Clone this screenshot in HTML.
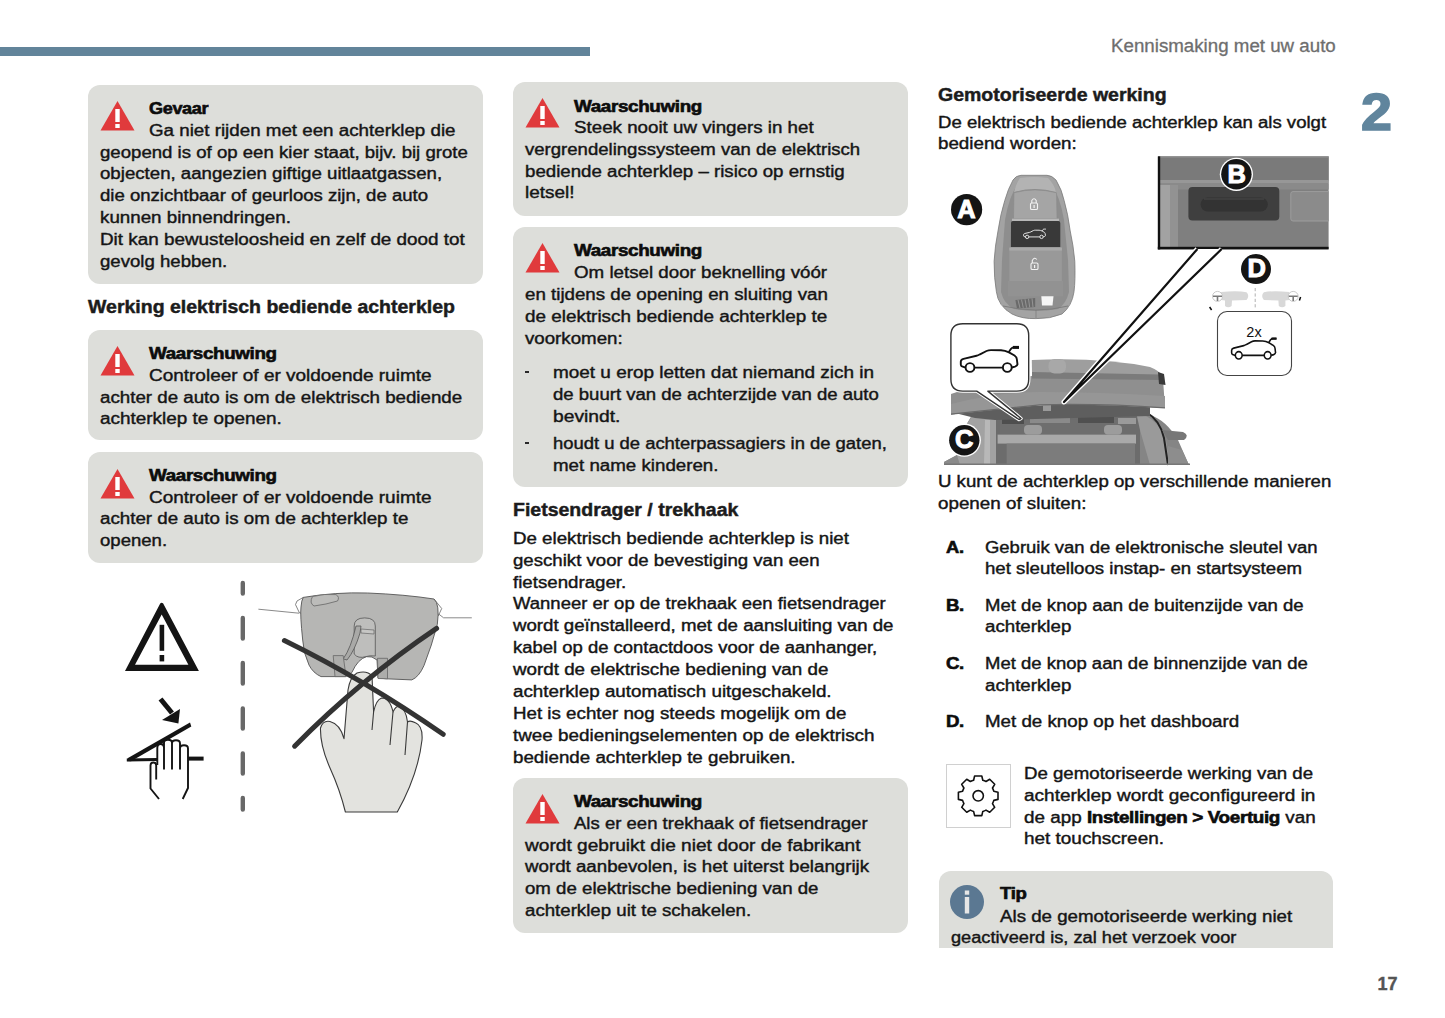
<!DOCTYPE html>
<html><head><meta charset="utf-8">
<style>
*{margin:0;padding:0;box-sizing:border-box}
html,body{width:1445px;height:1018px;overflow:hidden;background:#fff}
body{position:relative;font-family:"Liberation Sans",sans-serif;color:#151515}
.a{position:absolute}
.t{position:absolute;font-size:16px;line-height:21.9px;white-space:nowrap;transform:scaleX(1.165);transform-origin:0 0;-webkit-text-stroke:0.4px #151515}
.b{font-weight:bold;letter-spacing:-0.3px;-webkit-text-stroke:0.6px #0c0c0c;color:#0c0c0c}
.h{position:absolute;font-size:18px;font-weight:bold;white-space:nowrap;line-height:22px;color:#1c1c1c;transform:scaleX(1.083);transform-origin:0 0;-webkit-text-stroke:0.45px #1c1c1c}
.box{position:absolute;background:#dddeda;border-radius:12px}
.warn{position:absolute;width:35px;height:31px}
</style></head><body>
<!-- header -->
<div class="a" style="left:0;top:47px;width:590px;height:9px;background:#62849a"></div>
<div class="a" style="left:1110.6px;top:35.1px;font-size:18px;color:#6e6e6e;-webkit-text-stroke:0.3px #6e6e6e;white-space:nowrap;line-height:22px;transform:scaleX(1.04);transform-origin:0 0">Kennismaking met uw auto</div>
<div class="a" style="left:1361px;top:81.9px;font-size:52.5px;font-weight:bold;color:#60859d;line-height:60px;-webkit-text-stroke:1.6px #60859d;transform:scaleX(1.06);transform-origin:0 0">2</div>

<!-- LEFT COLUMN -->
<div class="box" style="left:88px;top:85px;width:395px;height:199px"></div>
<svg class="warn" style="left:100px;top:100px" viewBox="0 0 35 31"><path d="M17.5 1 L34.5 30.5 L0.5 30.5 Z" fill="#e03a3c"/><rect x="15.3" y="9" width="4.4" height="13" fill="#fff"/><rect x="15.3" y="24" width="4.4" height="4" fill="#fff"/></svg>
<div class="t" id="L1" style="left:149px;top:98.10px;transform:scaleX(1.1286)"><span class="b">Gevaar</span></div>
<div class="t" id="L2" style="left:149px;top:120.10px;transform:scaleX(1.1723)">Ga niet rijden met een achterklep die</div>
<div class="t" id="L3" style="left:100px;top:142.10px;transform:scaleX(1.1627)">geopend is of op een kier staat, bijv. bij grote</div>
<div class="t" id="L4" style="left:100px;top:163.10px;transform:scaleX(1.1654)">objecten, aangezien giftige uitlaatgassen,</div>
<div class="t" id="L5" style="left:100px;top:185.10px;transform:scaleX(1.1597)">die onzichtbaar of geurloos zijn, de auto</div>
<div class="t" id="L6" style="left:100px;top:207.10px;transform:scaleX(1.1725)">kunnen binnendringen.</div>
<div class="t" id="L7" style="left:100px;top:229.10px;transform:scaleX(1.1783)">Dit kan bewusteloosheid en zelf de dood tot</div>
<div class="t" id="L8" style="left:100px;top:251.10px;transform:scaleX(1.1623)">gevolg hebben.</div>

<div class="h" style="left:88px;top:296px">Werking elektrisch bediende achterklep</div>

<div class="box" style="left:88px;top:329.5px;width:395px;height:110.5px"></div>
<svg class="warn" style="left:100px;top:345px" viewBox="0 0 35 31"><path d="M17.5 1 L34.5 30.5 L0.5 30.5 Z" fill="#e03a3c"/><rect x="15.3" y="9" width="4.4" height="13" fill="#fff"/><rect x="15.3" y="24" width="4.4" height="4" fill="#fff"/></svg>
<div class="t" id="L9" style="left:149px;top:343.10px;transform:scaleX(1.1742)"><span class="b">Waarschuwing</span></div>
<div class="t" id="L10" style="left:149px;top:365.10px;transform:scaleX(1.1852)">Controleer of er voldoende ruimte</div>
<div class="t" id="L11" style="left:100px;top:387.10px;transform:scaleX(1.1701)">achter de auto is om de elektrisch bediende</div>
<div class="t" id="L12" style="left:100px;top:408.10px;transform:scaleX(1.1815)">achterklep te openen.</div>

<div class="box" style="left:88px;top:452px;width:395px;height:111px"></div>
<svg class="warn" style="left:100px;top:467.5px" viewBox="0 0 35 31"><path d="M17.5 1 L34.5 30.5 L0.5 30.5 Z" fill="#e03a3c"/><rect x="15.3" y="9" width="4.4" height="13" fill="#fff"/><rect x="15.3" y="24" width="4.4" height="4" fill="#fff"/></svg>
<div class="t" id="L13" style="left:149px;top:465.10px;transform:scaleX(1.1742)"><span class="b">Waarschuwing</span></div>
<div class="t" id="L14" style="left:149px;top:487.10px;transform:scaleX(1.1852)">Controleer of er voldoende ruimte</div>
<div class="t" id="L15" style="left:100px;top:508.10px;transform:scaleX(1.1712)">achter de auto is om de achterklep te</div>
<div class="t" id="L16" style="left:100px;top:530.10px;transform:scaleX(1.1596)">openen.</div>


<!-- LEFT ILLUSTRATION -->
<svg class="a" style="left:100px;top:570px" width="380" height="260" viewBox="100 570 380 260">
  <!-- outlined warning triangle -->
  <path d="M160.2 603.5 Q161.7 601.8 163.2 603.5 L198.9 671 L125 671 Z M161.7 614.6 L135 664.7 L188.4 664.7 Z" fill="#141414" fill-rule="evenodd"/>
  <rect x="159.6" y="624.8" width="4.6" height="26" fill="#141414"/>
  <rect x="159.6" y="655" width="4.6" height="6.4" fill="#141414"/>
  <!-- arrow -->
  <path d="M160.5 699 L172 713" stroke="#141414" stroke-width="5" fill="none"/>
  <path d="M162 720 L180 709 L178.4 723.4 Z" fill="#141414"/>
  <!-- hinge lines -->
  <path d="M126.8 760 L157 759.5" stroke="#141414" stroke-width="3.2" fill="none"/>
  <path d="M186 758.6 L203.6 758.6" stroke="#141414" stroke-width="4" fill="none"/>
  <path d="M126.8 761 L128 758 L190 722.4 L191.3 726.6 L131 761.3 Z" fill="#141414"/>
  <!-- hand -->
  <path d="M150.5 788.5 L150.5 765.5 Q150.5 762.5 153.3 762.5 Q156.2 762.5 156.2 765.5 L157.3 765 L157.3 748 Q157.3 744 160.7 744 Q164 744 164 747.5 L164 742.8 Q164 739.7 168 739.7 Q172 739.7 172 742.8 L172 743.3 Q172 740.2 176 740.2 Q180 740.2 180 743.3 L180 748.5 Q180 745.3 184 745.3 Q188 745.3 188 748.5 L188 788 L182.7 799 L159 799 Z" fill="#fff"/>
  <path d="M159 799 L150.5 788.5 L150.5 765.5 Q150.5 762.5 153.3 762.5 Q156.2 762.5 156.2 765.5 L156.2 779.5" fill="none" stroke="#141414" stroke-width="1.9" stroke-linejoin="round"/>
  <path d="M157.3 765 L157.3 748 Q157.3 744 160.7 744 Q164 744 164 747.5 L164 769.6 M164 747.5 L164 742.8 Q164 739.7 168 739.7 Q172 739.7 172 742.8 L172 769.6 M172 743.3 Q172 740.2 176 740.2 Q180 740.2 180 743.3 L180 769.6 M180 748.5 Q180 745.3 184 745.3 Q188 745.3 188 748.5 L188 788 L182.7 799" fill="none" stroke="#141414" stroke-width="1.9" stroke-linejoin="round"/>
  <!-- dashed divider -->
  <path d="M242.8 583 V593.5 M242.8 618 V638.5 M242.8 663 V683.5 M242.8 708.5 V728.5 M242.8 753.5 V773.5 M242.8 798 V809.5" stroke="#686868" stroke-width="4.4" stroke-linecap="round" fill="none"/>
  <!-- thin body lines -->
  <path d="M258.4 609.2 L299 613.2" stroke="#8a8a8a" stroke-width="1" fill="none"/>
  <path d="M436 612 L443.6 617.8 L471.8 617.8" stroke="#8a8a8a" stroke-width="1" fill="none"/>
  <!-- lock housing -->
  <path d="M303.3 597.4 L297 601 L295.5 604.6 L299.5 613 L302 613 Z" fill="#fff" stroke="#666" stroke-width="0.8"/>
  <path d="M434 599 L441.7 608.5 L438.4 615.7 L437.3 612 Z" fill="#fff" stroke="#666" stroke-width="0.8"/>
  <path d="M303.3 597.4 Q335 592 367.5 593 Q405 594.5 434 599 Q440 604 437.3 624.5 Q432 645 424 665.5 Q419 677 411.8 679.9 L386.3 678.8 L378 678 L377 660 Q372 655.6 366.4 656.7 Q358 659 352 672.2 L349.8 674.4 L345.4 676.6 L321 676.6 Q313 673 309 665 Q303 652 302.7 640 Q300 615 301 607 Q301.5 600 303.3 597.4 Z" fill="#b6b6b4" stroke="#555" stroke-width="0.9" stroke-linejoin="round"/>
  <path d="M312.5 596.5 Q325 593.5 336 594.6 Q340 597 337.5 601 Q326 604.5 314 606 Q309 603 312.5 596.5 Z" fill="#bcbcba" stroke="#666" stroke-width="0.8"/>
  <path d="M354.2 654 L354.2 626 Q354.2 617.9 364.7 617.9 Q375.3 617.9 375.3 626 L375.3 656 Q370 655.2 366 656.6 Q358 659 354.2 654 Z" fill="#bebebc" stroke="#555" stroke-width="0.8"/>
  <path d="M356 626 L361 626 L360 633 Q355 650 347 660 L343.2 658.9 Q351 648 356 626 Z" fill="#a9a9a7" stroke="#555" stroke-width="0.8"/>
  <path d="M361 629 L374 630 L374 634 L361 633 Z" fill="#c6c6c4" stroke="#666" stroke-width="0.7"/>
  <path d="M333.2 655.6 L343.2 655.6 L346 676.6 L335 676.6 Z" fill="#adadab" stroke="#666" stroke-width="0.8"/>
  <path d="M377.5 658.3 L387.5 658.3 L387.5 678.8 L378 678.5 Z" fill="#adadab" stroke="#666" stroke-width="0.8"/>
  <!-- hand (right) -->
  <path d="M345.4 812 Q340 790 330 768 Q320 745 320.5 728 Q323 720 330 721.5 Q340 724 344 738.6 L348 690 Q350 677 357 673 Q367 670 372 676 L373.6 712 Q376 700 381.5 698 Q390 698 393 712 Q396 705 399.6 707 Q406 709 407.5 722 Q410 720 415.4 722.8 Q423 726 422 740 Q418 775 397.3 812 Z" fill="#e3e3df" stroke="#3a3a3a" stroke-width="1.1" stroke-linejoin="round"/>
  <path d="M373.6 712 L372 730 M393 712 L390 745 M407.5 722 L405 755" stroke="#3a3a3a" stroke-width="1.1" fill="none"/>
  <!-- X -->
  <path d="M284.4 640.5 Q365 680 443.2 734.3" stroke="#333" stroke-width="5" stroke-linecap="round" fill="none"/>
  <path d="M294.6 746.2 Q360 680 436.6 628.4" stroke="#333" stroke-width="5" stroke-linecap="round" fill="none"/>
</svg>

<!-- MIDDLE COLUMN -->
<div class="box" style="left:513px;top:82px;width:395px;height:133.5px"></div>
<svg class="warn" style="left:525px;top:97px" viewBox="0 0 35 31"><path d="M17.5 1 L34.5 30.5 L0.5 30.5 Z" fill="#e03a3c"/><rect x="15.3" y="9" width="4.4" height="13" fill="#fff"/><rect x="15.3" y="24" width="4.4" height="4" fill="#fff"/></svg>
<div class="t" id="L17" style="left:574px;top:96.10px;transform:scaleX(1.1770)"><span class="b">Waarschuwing</span></div>
<div class="t" id="L18" style="left:574px;top:117.10px;transform:scaleX(1.1714)">Steek nooit uw vingers in het</div>
<div class="t" id="L19" style="left:525px;top:139.10px;transform:scaleX(1.1595)">vergrendelingssysteem van de elektrisch</div>
<div class="t" id="L20" style="left:525px;top:161.10px;transform:scaleX(1.1672)">bediende achterklep – risico op ernstig</div>
<div class="t" id="L21" style="left:525px;top:182.10px;transform:scaleX(1.1855)">letsel!</div>

<div class="box" style="left:513px;top:227px;width:395px;height:260px"></div>
<svg class="warn" style="left:525px;top:242px" viewBox="0 0 35 31"><path d="M17.5 1 L34.5 30.5 L0.5 30.5 Z" fill="#e03a3c"/><rect x="15.3" y="9" width="4.4" height="13" fill="#fff"/><rect x="15.3" y="24" width="4.4" height="4" fill="#fff"/></svg>
<div class="t" id="L22" style="left:574px;top:240.10px;transform:scaleX(1.1770)"><span class="b">Waarschuwing</span></div>
<div class="t" id="L23" style="left:574px;top:262.10px;transform:scaleX(1.1711)">Om letsel door beknelling vóór</div>
<div class="t" id="L24" style="left:525px;top:284.10px;transform:scaleX(1.1701)">en tijdens de opening en sluiting van</div>
<div class="t" id="L25" style="left:525px;top:306.10px;transform:scaleX(1.1799)">de elektrisch bediende achterklep te</div>
<div class="t" id="L26" style="left:525px;top:328.10px;transform:scaleX(1.1675)">voorkomen:</div>
<div class="t" id="L27" style="left:525px;top:362.10px">&nbsp;</div>
<div class="a" style="left:525px;top:370.5px;width:4.4px;height:2.2px;background:#2a2a2a"></div>
<div class="t" id="L28" style="left:553px;top:362.10px;transform:scaleX(1.1832)">moet u erop letten dat niemand zich in</div>
<div class="t" id="L29" style="left:553px;top:384.10px;transform:scaleX(1.1590)">de buurt van de achterzijde van de auto</div>
<div class="t" id="L30" style="left:553px;top:406.10px;transform:scaleX(1.2020)">bevindt.</div>
<div class="t" id="L31" style="left:525px;top:433.10px">&nbsp;</div>
<div class="a" style="left:525px;top:441.9px;width:4.4px;height:2.2px;background:#2a2a2a"></div>
<div class="t" id="L32" style="left:553px;top:433.10px;transform:scaleX(1.1511)">houdt u de achterpassagiers in de gaten,</div>
<div class="t" id="L33" style="left:553px;top:455.10px;transform:scaleX(1.1701)">met name kinderen.</div>

<div class="h" style="left:513px;top:499px">Fietsendrager / trekhaak</div>
<div class="t" id="L34" style="left:513px;top:528.10px;transform:scaleX(1.1694)">De elektrisch bediende achterklep is niet</div>
<div class="t" id="L35" style="left:513px;top:550.10px;transform:scaleX(1.1645)">geschikt voor de bevestiging van een</div>
<div class="t" id="L36" style="left:513px;top:572.10px;transform:scaleX(1.1672)">fietsendrager.</div>
<div class="t" id="L37" style="left:513px;top:593.10px;transform:scaleX(1.1562)">Wanneer er op de trekhaak een fietsendrager</div>
<div class="t" id="L38" style="left:513px;top:615.10px;transform:scaleX(1.1656)">wordt geïnstalleerd, met de aansluiting van de</div>
<div class="t" id="L39" style="left:513px;top:637.10px;transform:scaleX(1.1532)">kabel op de contactdoos voor de aanhanger,</div>
<div class="t" id="L40" style="left:513px;top:659.10px;transform:scaleX(1.1741)">wordt de elektrische bediening van de</div>
<div class="t" id="L41" style="left:513px;top:681.10px;transform:scaleX(1.1743)">achterklep automatisch uitgeschakeld.</div>
<div class="t" id="L42" style="left:513px;top:703.10px;transform:scaleX(1.1713)">Het is echter nog steeds mogelijk om de</div>
<div class="t" id="L43" style="left:513px;top:725.10px;transform:scaleX(1.1781)">twee bedieningselementen op de elektrisch</div>
<div class="t" id="L44" style="left:513px;top:747.10px;transform:scaleX(1.1722)">bediende achterklep te gebruiken.</div>

<div class="box" style="left:513px;top:778px;width:395px;height:155px"></div>
<svg class="warn" style="left:525px;top:793px" viewBox="0 0 35 31"><path d="M17.5 1 L34.5 30.5 L0.5 30.5 Z" fill="#e03a3c"/><rect x="15.3" y="9" width="4.4" height="13" fill="#fff"/><rect x="15.3" y="24" width="4.4" height="4" fill="#fff"/></svg>
<div class="t" id="L45" style="left:574px;top:791.10px;transform:scaleX(1.1770)"><span class="b">Waarschuwing</span></div>
<div class="t" id="L46" style="left:574px;top:813.10px;transform:scaleX(1.1583)">Als er een trekhaak of fietsendrager</div>
<div class="t" id="L47" style="left:525px;top:835.10px;transform:scaleX(1.1937)">wordt gebruikt die niet door de fabrikant</div>
<div class="t" id="L48" style="left:525px;top:856.10px;transform:scaleX(1.1688)">wordt aanbevolen, is het uiterst belangrijk</div>
<div class="t" id="L49" style="left:525px;top:878.10px;transform:scaleX(1.1658)">om de elektrische bediening van de</div>
<div class="t" id="L50" style="left:525px;top:900.10px;transform:scaleX(1.1665)">achterklep uit te schakelen.</div>

<!-- RIGHT COLUMN -->
<div class="h" style="left:938px;top:84px">Gemotoriseerde werking</div>
<div class="t" id="L51" style="left:938px;top:112.10px;transform:scaleX(1.1605)">De elektrisch bediende achterklep kan als volgt</div>
<div class="t" id="L52" style="left:938px;top:133.10px;transform:scaleX(1.1728)">bediend worden:</div>

<!-- ILLUSTRATION placeholder -->
<svg class="a" style="left:930px;top:150px" width="410" height="320" viewBox="930 150 410 320">
  <defs>
    <g id="caricon">
      <path d="M5.6 21.6 L2 20.4 Q0.8 20 0.8 18.5 L0.8 15.5 Q1 13.5 3.5 12.8 L16.5 9.8 Q18 9.5 20 8.3 L26.5 5 Q28.5 4.1 31 4.1 L41 4.2 Q45 4.4 49 6.4 L54.5 9.5 Q56.6 11 56.8 13 L57.5 18.3 Q57.2 19.8 55 20.6 L51.8 21.5 M14.4 21.6 L42.9 21.6" fill="none"/>
      <circle cx="10" cy="21.5" r="4.4" fill="none"/>
      <circle cx="47.3" cy="21.5" r="4.4" fill="none"/>
      <path d="M48.8 6 L51 2.8 Q52.3 1.3 54.5 1.3 L58.7 1.3" fill="none"/>
    </g>
  </defs>
  <!-- ===== key fob ===== -->
  <path d="M1021 175.3 L1047 175.3 Q1052 175.5 1056 180 Q1062 190 1064.1 200.4 Q1068 214 1070.2 230.9 Q1073.5 246 1074.8 261.3 Q1075.5 280 1074 291.8 Q1072 306 1062 314 Q1050 319 1036 318.6 Q1022 319 1012 314 Q998 306 996.4 291.8 Q994 278 994.1 261.3 Q995 246 998 230.9 Q1000.5 214 1004.8 200.4 Q1008 189 1013 180 Q1016 175.5 1021 175.3 Z" fill="#a3a3a3" stroke="#7a7a7a" stroke-width="0.8"/>
  <path d="M1018 184 Q1034 181 1051 184 Q1060 196 1064 220 L1068 260 L1069 292 Q1066 304 1058 309 Q1036 313 1014 309 Q1004 304 1001 292 L1002 260 L1005 220 Q1009 196 1018 184 Z" fill="#8e8e8e"/>
  <path d="M1020 178 Q1034 176 1048 178 Q1054 184 1056 192 Q1035 186 1014 192 Q1016 184 1020 178 Z" fill="#b3b3b3"/>
  <path d="M1014 192.8 Q1035 187 1056.5 192.8 L1057 218.7 L1013.5 218.7 Z" fill="#a5a5a5" stroke="#8a8a8a" stroke-width="0.6"/>
  <rect x="1012" y="218.7" width="47" height="2.3" fill="#b8b8b8"/>
  <path d="M1011 223 Q1011 221 1013 221 L1058.3 221 Q1060.3 221 1060.3 223 L1060.3 246.9 L1010.9 246.9 Z" fill="#393939"/>
  <path d="M1009.4 247.6 L1061.9 247.6 L1061.9 281.1 L1009.4 281.1 Z" fill="#999"/>
  <rect x="1009.4" y="247.6" width="52.5" height="3" fill="#a9a9a9"/>
  <path d="M1008 281.1 L1063 281.1 L1063 296.3 L1008 296.3 Z" fill="#929292"/>
  <path d="M1015.4 300 L1035.2 297.9 L1035.2 307 L1017 308.5 Z" fill="#6a6a6a"/>
  <path d="M1018 300 L1020 308 M1021.5 299.6 L1023.3 307.8 M1025 299.2 L1026.5 307.5 M1028.5 298.8 L1029.7 307.3 M1032 298.4 L1033 307.1" stroke="#9a9a9a" stroke-width="0.9"/>
  <path d="M1041.3 296.3 L1053.5 296.3 L1052.5 305.5 L1042 305.5 Z" fill="#f6f6f6"/>
  <path d="M1003 306 Q1036 314 1068 306" stroke="#7a7a7a" stroke-width="0.9" fill="none"/>
  <path d="M1036 310 L1036 318" stroke="#7a7a7a" stroke-width="0.7"/>
  <!-- lock icons -->
  <g fill="none" stroke="#f2f2f2" stroke-width="1.1">
    <rect x="1030.5" y="203" width="7" height="6.5" rx="1.3"/>
    <path d="M1031.8 203 L1031.8 200.5 Q1034 197 1036.2 200.5 L1036.2 203"/>
    <rect x="1031" y="263" width="7" height="6.5" rx="1.3"/>
    <path d="M1032.3 263 L1032.3 260.5 Q1034.5 256.5 1036.8 259.5"/>
  </g>
  <rect x="1033.5" y="205" width="1.2" height="3" fill="#f2f2f2"/>
  <rect x="1034" y="265" width="1.2" height="3" fill="#f2f2f2"/>
  <use href="#caricon" transform="translate(1023.3 228.6) scale(0.385)" stroke="#f0f0f0" stroke-width="2.4"/>
  <!-- A -->
  <circle cx="966.6" cy="209.6" r="15.6" fill="#141414"/>
  <text x="966.4" y="217.8" text-anchor="middle" font-family="Liberation Sans" font-weight="bold" font-size="25.5" fill="#fff" stroke="#fff" stroke-width="1">A</text>

  <!-- ===== B box ===== -->
  <rect x="1158" y="156.4" width="170.6" height="92.8" fill="#7f7f7f"/>
  <rect x="1158" y="156.4" width="170.6" height="24" fill="#7a7a7a"/>
  <rect x="1158" y="180" width="170.6" height="3.5" fill="#979797"/>
  <rect x="1158" y="183.5" width="170.6" height="6" fill="#8a8a8a"/>
  <rect x="1160" y="185" width="16" height="62" fill="#a2a2a2"/>
  <rect x="1170" y="185" width="8" height="62" fill="#929292"/>
  <path d="M1328.6 191.6 L1293 191.6 Q1290.8 191.6 1290.8 193.8 L1290.8 218.8 Q1290.8 221 1293 221 L1328.6 221" fill="#8b8b8b" stroke="#9d9d9d" stroke-width="1"/>
  <rect x="1188.4" y="187.1" width="90.9" height="33.3" rx="4" fill="#3f3f3f"/>
  <rect x="1200.6" y="197.4" width="67.2" height="14.1" rx="7" fill="#333"/>
  <path d="M1204 199 L1264 199" stroke="#4b4b4b" stroke-width="1.2"/>
  <rect x="1158" y="156.4" width="170.6" height="1" fill="#999"/>
  <rect x="1157.8" y="156.4" width="2.4" height="93" fill="#111"/>
  <rect x="1157.8" y="246.8" width="170.8" height="2.6" fill="#111"/>
  <circle cx="1236.4" cy="174.3" r="16.6" fill="#fff"/>
  <circle cx="1236.4" cy="174.3" r="15.2" fill="#141414"/>
  <text x="1236.6" y="182.6" text-anchor="middle" font-family="Liberation Sans" font-weight="bold" font-size="25.5" fill="#fff" stroke="#fff" stroke-width="1">B</text>

  <!-- ===== car ===== -->
  <g>
    <!-- body sides / interior -->
    <path d="M972 415 L1150 415 Q1166 420 1178 440 L1189 465 L944 465 L944 462 L957 455 L962 432 Z" fill="#858585"/>
    <path d="M972 416 L996 416 L996 465 L957 465 L957 455 L962 432 Z" fill="#a2a2a2"/>
    <path d="M985 420 L990 420 L990 465 L984 465 Z" fill="#b8b8b8"/>
    <path d="M944 462 L957 455 L960 465 L944 465 Z" fill="#8a8a8a"/>
    <rect x="996" y="416" width="144" height="49" fill="#6c6c6c"/>
    <rect x="1000" y="420" width="120" height="14" fill="#6e6e6e"/>
    <rect x="1002" y="416" width="22" height="8" fill="#4e4e4e"/>
    <rect x="1078" y="416" width="36" height="7" fill="#505050"/>
    <rect x="1030" y="418" width="40" height="5" fill="#8a8a8a"/>
    <rect x="1118" y="418" width="18" height="6" fill="#9a9a9a"/>
    <rect x="1024" y="425" width="18" height="9.6" rx="4" fill="#9c9c9c"/>
    <rect x="1104" y="425" width="18" height="9.6" rx="4" fill="#9c9c9c"/>
    <rect x="997.6" y="434.6" width="138.4" height="9" fill="#a9a9a9"/>
    <rect x="1006.6" y="443.6" width="128.4" height="21.4" fill="#7c7c7c"/>
    <path d="M1136 412 Q1158 418 1166 440 L1170 465 L1150 465 L1140 430 Z" fill="#9a9a9a"/>
    <path d="M1146 412 Q1160 420 1164 438 L1168 465" stroke="#222" stroke-width="2" fill="none"/>
    <path d="M1162 430 L1183 432 Q1190 435 1184 440 L1168 440 Z" fill="#777"/>
    <path d="M1168 446 L1182 450 L1189 465 L1168 465 Z" fill="#8d8d8d"/>
    <rect x="944" y="463.5" width="246" height="1.5" fill="#777"/>
    <!-- tailgate -->
    <path d="M955 413 Q1060 401 1150 403 L1150 416 L995 420 L975 418 Z" fill="#5e5e5e"/>
    <rect x="1043" y="404" width="8" height="7" fill="#9a9a9a"/>
    <path d="M951 394 Q990 380 1032 376 L1163 379 L1165 408 Q1100 403.5 1040 405 L951 414.5 Z" fill="#8f8f8f"/>
    <path d="M951 404 Q1000 392 1040 392 Q1100 392 1165 396 L1165 408 Q1100 403.5 1040 405 L951 414.5 Z" fill="#969696"/>
    <path d="M951 414.2 L1040 404.8 Q1100 403.3 1165 407.8" stroke="#6a6a6a" stroke-width="1.2" fill="none"/>
    <path d="M1031.8 360 Q1100 357 1150 367 Q1160 371 1162 376 L1032 374 Z" fill="#9e9e9e"/>
    <path d="M1032 372 L1160 374.5 L1163 380 L1032 378.5 Z" fill="#7b7b7b"/>
    <rect x="1048.5" y="359" width="17.5" height="14.5" rx="6" fill="#a8a8a8"/>
    <path d="M1158 372 L1164 374 L1165.5 385 L1159 384 Z" fill="#3a3a3a"/>
  </g>
  <!-- C -->
  <circle cx="964.3" cy="440.2" r="16.6" fill="#fff"/>
  <circle cx="964.3" cy="440.2" r="15.2" fill="#141414"/>
  <text x="964.3" y="448.4" text-anchor="middle" font-family="Liberation Sans" font-weight="bold" font-size="25.5" fill="#fff" stroke="#fff" stroke-width="1">C</text>

  <!-- callout -->
  <path d="M962.8 323.8 L1016.8 323.8 Q1028.7 323.8 1028.7 335.6 L1028.7 379.3 Q1028.7 391.1 1016.8 391.1 L987.8 391.1 L1021 418.5 L1019 419.5 L976.7 391.1 L962.8 391.1 Q950.9 391.1 950.9 379.3 L950.9 335.6 Q950.9 323.8 962.8 323.8 Z" fill="#fff" stroke="#fff" stroke-width="3.5" stroke-linejoin="round"/>
  <path d="M962.8 323.8 L1016.8 323.8 Q1028.7 323.8 1028.7 335.6 L1028.7 379.3 Q1028.7 391.1 1016.8 391.1 L987.8 391.1 L1021 418.5 L1019 419.5 L976.7 391.1 L962.8 391.1 Q950.9 391.1 950.9 379.3 L950.9 335.6 Q950.9 323.8 962.8 323.8 Z" fill="#fff" stroke="#333" stroke-width="1.4" stroke-linejoin="round"/>
  <use href="#caricon" transform="translate(960 346)" stroke="#111" stroke-width="1.9"/>
  <path d="M1013 347.4 L1019 347.4" stroke="#111" stroke-width="3"/>

  <!-- leader lines from B -->
  <path d="M1197.4 249 L1064 402 L1221.7 249" fill="#fff" stroke="#fff" stroke-width="5" stroke-linejoin="round"/>
  <path d="M1197.4 249 L1064 402 L1221.7 249" fill="#fff" stroke="#111" stroke-width="2.2" stroke-linejoin="round"/>

  <!-- ===== D / dashboard ===== -->
  <g fill="#d8d8d8">
    <path d="M1221 292 Q1238 290.3 1246.5 292.3 Q1250 296 1246.5 300 L1232 300.6 L1231.6 306 Q1228.3 308.6 1225 306 L1225 300.6 L1221 300 Z"/>
    <path d="M1289.4 292 Q1272.4 290.3 1263.9 292.3 Q1260.4 296 1263.9 300 L1278.4 300.6 L1278.8 306 Q1282.1 308.6 1285.4 306 L1285.4 300.6 L1289.4 300 Z"/>
  </g>
  <g fill="#fff" stroke="#c4c4c4" stroke-width="0.9">
    <circle cx="1217.5" cy="296.4" r="5"/><circle cx="1293.2" cy="296.4" r="5"/>
  </g>
  <path d="M1213 296.2 L1222 296.2 M1217.5 296.2 L1217.5 301 M1288.7 296.2 L1297.7 296.2 M1293.2 296.2 L1293.2 301" stroke="#7a7a7a" stroke-width="1.6"/>
  <path d="M1209.6 307 L1211.6 310 M1300.6 297 L1299.4 300.5" stroke="#111" stroke-width="1.5"/>
  <path d="M1255.2 288 L1255.2 309.5" stroke="#b0b0b0" stroke-width="1" stroke-dasharray="3.2 2.2"/>
  <circle cx="1256" cy="269.1" r="16.2" fill="#fff"/>
  <circle cx="1256" cy="269.1" r="15" fill="#141414"/>
  <text x="1256.6" y="277.4" text-anchor="middle" font-family="Liberation Sans" font-weight="bold" font-size="25.5" fill="#fff" stroke="#fff" stroke-width="1">D</text>
  <rect x="1217.5" y="311.5" width="74" height="64" rx="9.5" fill="#fff" stroke="#444" stroke-width="1.1"/>
  <text x="1254" y="336.5" text-anchor="middle" font-family="Liberation Sans" font-size="14.5" fill="#111">2x</text>
  <use href="#caricon" transform="translate(1231 337.5) scale(0.775 0.83)" stroke="#111" stroke-width="2"/>
  <path d="M1271.5 338.6 L1276.5 338.6" stroke="#111" stroke-width="2.2"/>
</svg>


<div class="t" id="L53" style="left:938px;top:471.10px;transform:scaleX(1.1638)">U kunt de achterklep op verschillende manieren</div>


<div class="t" id="L54" style="left:938px;top:493.10px;transform:scaleX(1.1746)">openen of sluiten:</div>
<div class="t b" id="L55" style="left:946px;top:537.10px;transform:scaleX(1.1445)">A.</div>
<div class="t" id="L56" style="left:985px;top:537.10px;transform:scaleX(1.1536)">Gebruik van de elektronische sleutel van</div>
<div class="t" id="L57" style="left:985px;top:558.10px;transform:scaleX(1.1650)">het sleutelloos instap- en startsysteem</div>
<div class="t b" id="L58" style="left:946px;top:595.10px">B.</div>
<div class="t" id="L59" style="left:985px;top:595.10px;transform:scaleX(1.1592)">Met de knop aan de buitenzijde van de</div>
<div class="t" id="L60" style="left:985px;top:616.10px;transform:scaleX(1.1692)">achterklep</div>
<div class="t b" id="L61" style="left:946px;top:653.10px">C.</div>
<div class="t" id="L62" style="left:985px;top:653.10px;transform:scaleX(1.1554)">Met de knop aan de binnenzijde van de</div>
<div class="t" id="L63" style="left:985px;top:675.10px;transform:scaleX(1.1692)">achterklep</div>
<div class="t b" id="L64" style="left:946px;top:711.10px">D.</div>
<div class="t" id="L65" style="left:985px;top:711.10px;transform:scaleX(1.1711)">Met de knop op het dashboard</div>

<div class="a" style="left:945.5px;top:763.5px;width:65px;height:64.6px;border:1.2px solid #d0d0d0"></div>
<svg class="a" style="left:940px;top:758px" width="76" height="76" viewBox="940 758 76 76"><path d="M973.6 780.2 L974.6 776.0 L981.8 776.0 L982.8 780.2 A15.6 15.6 0 0 1 986.0 781.5 L989.7 779.3 L994.7 784.3 L992.5 788.0 A15.6 15.6 0 0 1 993.8 791.2 L998.0 792.2 L998.0 799.4 L993.8 800.4 A15.6 15.6 0 0 1 992.5 803.6 L994.7 807.3 L989.7 812.3 L986.0 810.1 A15.6 15.6 0 0 1 982.8 811.4 L981.8 815.6 L974.6 815.6 L973.6 811.4 A15.6 15.6 0 0 1 970.4 810.1 L966.7 812.3 L961.7 807.3 L963.9 803.6 A15.6 15.6 0 0 1 962.6 800.4 L958.4 799.4 L958.4 792.2 L962.6 791.2 A15.6 15.6 0 0 1 963.9 788.0 L961.7 784.3 L966.7 779.3 L970.4 781.5 A15.6 15.6 0 0 1 973.6 780.2 Z" fill="none" stroke="#111" stroke-width="1.6" stroke-linejoin="round"/><circle cx="978.2" cy="795.8" r="5.2" fill="none" stroke="#111" stroke-width="1.6"/></svg>
<div class="t" id="L66" style="left:1024px;top:763.10px;transform:scaleX(1.1650)">De gemotoriseerde werking van de</div>
<div class="t" id="L67" style="left:1024px;top:785.10px;transform:scaleX(1.1872)">achterklep wordt geconfigureerd in</div>
<div class="t" id="L68" style="left:1024px;top:807.10px;transform:scaleX(1.1780)">de app <span class="b">Instellingen &gt; Voertuig</span> van</div>
<div class="t" id="L69" style="left:1024px;top:828.10px;transform:scaleX(1.1830)">het touchscreen.</div>

<div class="a" style="left:938.5px;top:871px;width:394px;height:76.5px;background:#dddeda;border-radius:12px 12px 0 0;overflow:hidden">
  <div class="t" id="L70" style="left:61.5px;top:12.10px;transform:scaleX(1.1616)"><span class="b">Tip</span></div>
  <div class="t" id="L71" style="left:61.5px;top:35.10px;transform:scaleX(1.1690)">Als de gemotoriseerde werking niet</div>
  <div class="t" id="L72" style="left:12.5px;top:56.10px;transform:scaleX(1.1378)">geactiveerd is, zal het verzoek voor</div>
</div>
<svg class="a" style="left:950px;top:884.5px" width="34" height="34" viewBox="0 0 34 34"><circle cx="17" cy="17" r="17" fill="#5b7892"/><rect x="14.8" y="5.5" width="4.4" height="4.2" fill="#e6e6e6"/><rect x="14.8" y="12" width="4.4" height="16.5" fill="#e6e6e6"/></svg>

<div class="a" style="left:1377.5px;top:973.5px;font-size:18px;font-weight:bold;color:#555;line-height:20px;-webkit-text-stroke:0.4px #555">17</div>
</body></html>
